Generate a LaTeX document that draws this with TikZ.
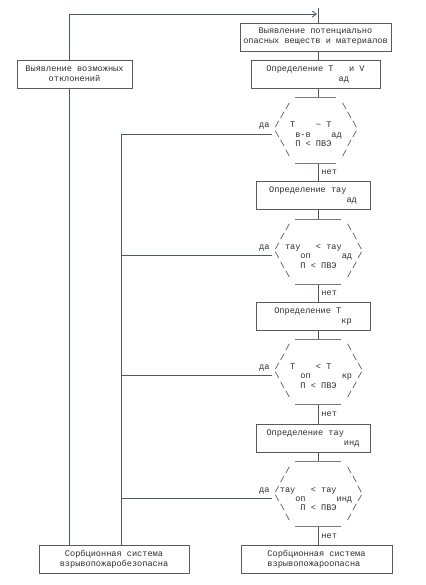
\documentclass[tikz,border=0pt]{standalone}
\usepackage{fontspec}
\setmainfont{Liberation Mono}[WordSpace={1,0,0}]
\usetikzlibrary{arrows.meta,positioning}
\definecolor{wiregray}{RGB}{78,88,104}
\definecolor{framegray}{RGB}{90,90,90}
\definecolor{inkgray}{RGB}{45,45,45}
\newcommand{\bsl}{\textbackslash}

\begin{document}
\begin{tikzpicture}[x=1pt,y=-1pt,
        every node/.style={font=\fontsize{8.6}{10}\selectfont,text=inkgray},
        box/.style={rectangle,draw=framegray,line width=0.9pt,minimum height=28pt,inner sep=0pt},
        hexa/.style={inner sep=0pt,align=left,anchor=west,font=\fontsize{8.6}{9.4}\selectfont},
        wire/.style={draw=wiregray,line width=0.9pt},
        bar/.style={draw=framegray!80,line width=0.9pt},
        arrow/.style={wire,-{Straight Barb[length=4pt,width=6pt]}}]
        \useasboundingbox (0,0) rectangle (425,585);
        \coordinate (entry) at (318,8);
        \coordinate (arr) at (317,14);
        \coordinate (lx1) at (69,0);
        \coordinate (lx2) at (121,0);
        \node[box,minimum width=151pt,align=center] (ident) at (315.5,37) {Выявление потенциально\\опасных веществ и материалов};
        \node[box,minimum width=129pt,align=left] (tv) at (315.5,74) {Определение T~~~и V\\~~~~~~~~~~~~~~ад};
        \node[box,minimum width=115pt,align=center] (dev) at (74.5,74) {Выявление возможных\\отклонений};
        \coordinate (top1) at (318,97);
        \coordinate (bot1) at (318,163);
        \node[hexa] (d1) at (259,129.5) {~~~~~/~~~~~~~~~~\bsl\\~~~~/~~~~~~~~~~~~\bsl\\да~/~~T~~~~\textasciitilde~T~~~~\bsl\\~~~\bsl~~~в-в~~~~ад~~/\\~~~~\bsl~~П~<~ПВЭ~~~/\\~~~~~\bsl~~~~~~~~~~/};
        \coordinate (yes1) at (272,134.2);
        \node[box,minimum width=114pt,align=left] (tad) at (313,195) {Определение тау\\~~~~~~~~~~~~~~~ад};
        \coordinate (top2) at (318,219);
        \coordinate (bot2) at (318,284);
        \node[hexa] (d2) at (259,251) {~~~~~/~~~~~~~~~~~\bsl\\~~~~/~~~~~~~~~~~~~\bsl\\да~/~тау~~~<~тау~~~\bsl\\~~~\bsl~~~~оп~~~~~~ад~/\\~~~~\bsl~~~П~<~ПВЭ~~~/\\~~~~~\bsl~~~~~~~~~~~/};
        \coordinate (yes2) at (272,255.7);
        \node[box,minimum width=114pt,align=left] (tkr) at (313,316.5) {Определение T\\~~~~~~~~~~~~~кр};
        \coordinate (top3) at (318,339);
        \coordinate (bot3) at (318,404.5);
        \node[hexa] (d3) at (259,371.2) {~~~~~/~~~~~~~~~~~\bsl\\~~~~/~~~~~~~~~~~~~\bsl\\да~/~~T~~~~<~T~~~~~\bsl\\~~~\bsl~~~~оп~~~~~~кр~/\\~~~~\bsl~~~П~<~ПВЭ~~~/\\~~~~~\bsl~~~~~~~~~~~/};
        \coordinate (yes3) at (272,375.9);
        \node[box,minimum width=114pt,align=left] (tind) at (313,438.3) {Определение тау\\~~~~~~~~~~~~~~~инд};
        \coordinate (top4) at (318,461.7);
        \coordinate (bot4) at (318,526.7);
        \node[hexa] (d4) at (259,493.7) {~~~~~/~~~~~~~~~~~\bsl\\~~~~/~~~~~~~~~~~~~\bsl\\да~/тау~~~<~тау~~~~\bsl\\~~~\bsl~~~оп~~~~~~инд~/\\~~~~\bsl~~~П~<~ПВЭ~~~/\\~~~~~\bsl~~~~~~~~~~~/};
        \coordinate (yes4) at (272,498.7);
        \node[box,minimum width=151pt,align=left] (danger) at (316.5,559.5) {Сорбционная система\\взрывопожароопасна};
        \node[box,minimum width=150pt,align=center] (safe) at (114,559) {Сорбционная система\\взрывопожаробезопасна};
        \draw[wire] (entry) -- (ident.north -| entry);
        \draw[wire] (ident.south -| entry) -- (tv.north -| entry);
        \foreach \src/\i in {tv/1,tad/2,tkr/3,tind/4}
          \draw[wire] (\src.south -| entry) -- (top\i);
        \foreach \i/\nxt in {1/tad,2/tkr,3/tind,4/danger}
          \draw[wire] (bot\i) -- node[right,inner sep=3pt] {нет} (\nxt.north -| bot\i);
        \foreach \i/\w in {1/18,2/23,3/23,4/23} {
          \draw[bar] ([xshift=-23pt]top\i) -- ([xshift=\w pt]top\i);
          \draw[bar] ([xshift=-23pt]bot\i) -- ([xshift=\w pt]bot\i);
          \draw[wire] (yes\i) -- (yes\i -| lx2);
        }
        \draw[arrow] (dev.north -| lx1) |- (arr);
        \draw[wire] (dev.south -| lx1) -- (safe.north -| lx1);
        \draw[wire] (yes1 -| lx2) -- (safe.north -| lx2);
      \end{tikzpicture}
\end{document}
